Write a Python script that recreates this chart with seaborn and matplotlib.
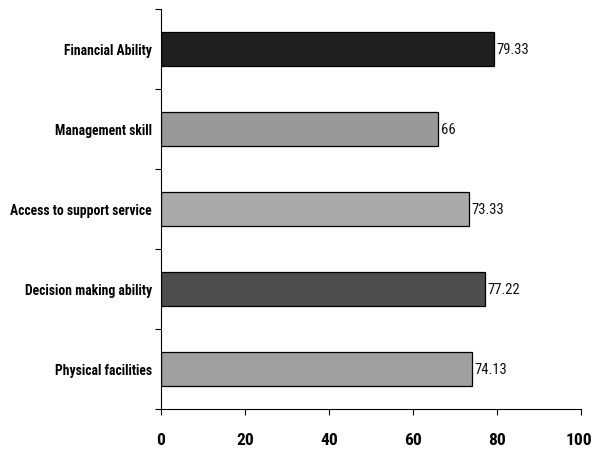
import matplotlib
matplotlib.use("Agg")
import matplotlib.pyplot as plt
from matplotlib import font_manager
import matplotlib.transforms as mtransforms
import seaborn as sns
import pandas as pd
import numpy as np

categories = ["Financial Ability", "Management skill", "Access to support service",
              "Decision making ability", "Physical facilities"]
values = [79.33, 66, 73.33, 77.22, 74.13]
value_labels = ["79.33", "66", "73.33", "77.22", "74.13"]
colors = ["#1f1f1f", "#999999", "#aaaaaa", "#4d4d4d", "#a0a0a0"]
x_ticks = [0, 20, 40, 60, 80, 100]

sns.set_style("white")
names = {f.name for f in font_manager.fontManager.ttflist}
narrow = None
for cand in ["Liberation Sans Narrow", "Arial Narrow", "Roboto Condensed", "Open Sans Condensed"]:
    if cand in names:
        narrow = cand
        break
fam = narrow if narrow else "Liberation Sans"
plt.rcParams["font.family"] = [fam, "DejaVu Sans"]

df = pd.DataFrame({"cat": categories, "val": values})

fig = plt.figure(figsize=(5.98, 4.52), dpi=100)
ax = fig.add_axes([161/598, 1-410/452, (581-161)/598, 400/452])
sns.barplot(data=df, x="val", y="cat", hue="cat", palette=colors, orient="h",
            width=0.42, edgecolor="black", linewidth=0.9, legend=False, ax=ax)

for i, (v, t) in enumerate(zip(values, value_labels)):
    ax.text(v + 0.6, i, t, va="center", ha="left", fontsize=10.5, color="#111111")

ax.set_xlim(0, 100)
ax.set_ylim(4.5, -0.5)
ax.set_xticks(x_ticks)
ax.set_xticklabels([str(t) for t in x_ticks], fontsize=12.5, fontweight="bold")
ax.set_yticks(range(len(categories)))
ax.set_yticklabels(categories, fontsize=10.5, fontweight="bold", color="black")
ax.set_yticks(np.arange(-0.5, 5.0, 1.0), minor=True)
ax.tick_params(axis="y", which="major", length=0, pad=6.5)
ax.tick_params(axis="y", which="minor", length=4.5, width=0.8, direction="out", color="black", left=True)
ax.tick_params(axis="x", which="major", length=4.5, width=0.8, direction="out", color="black", bottom=True, pad=12)
ax.set_xlabel("")
ax.set_ylabel("")
for s in ["top", "right"]:
    ax.spines[s].set_visible(False)
for s in ["left", "bottom"]:
    ax.spines[s].set_color("black")
    ax.spines[s].set_linewidth(0.8)
ax.grid(False)

# fit the longest category label into the space left of the axis (~142 px)
fig.canvas.draw()
r = fig.canvas.get_renderer()
widest = max(t.get_window_extent(r).width for t in ax.get_yticklabels())
fs = 10.5 * min(1.0, 142.0 / widest)
for t in ax.get_yticklabels():
    t.set_fontsize(fs)
xl = ax.get_xticklabels()
for t in xl:
    t.set_color("black")
# keep the last tick label inside the figure
xl[-1].set_transform(xl[-1].get_transform() + mtransforms.ScaledTranslation(-2/100, 0, fig.dpi_scale_trans))

fig.savefig("out.png", dpi=100, facecolor="white")
